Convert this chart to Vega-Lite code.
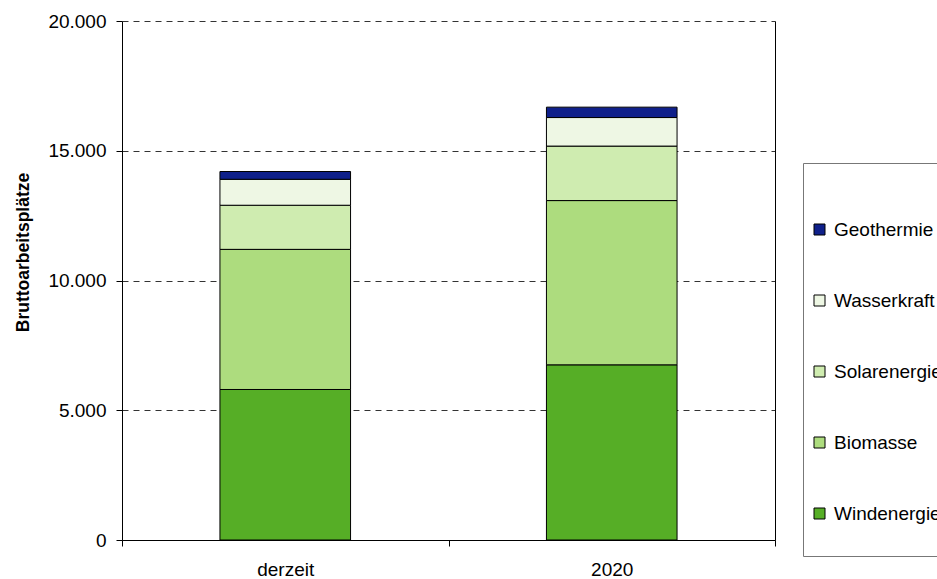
{
  "$schema": "https://vega.github.io/schema/vega-lite/v6.json",
  "width": 653,
  "height": 519,
  "autosize": "none",
  "padding": {"left": 122, "top": 21, "right": 162, "bottom": 39},
  "background": "white",
  "config": {
    "font": "Liberation Sans",
    "locale": {"number": {"decimal": ",", "thousands": ".", "grouping": [3], "currency": ["", " €"]}},
    "view": {"stroke": null}
  },
  "data": {
    "values": [
      {"Zeitraum": "derzeit", "Quelle": "Windenergie", "Rang": 1, "Arbeitsplaetze": 5800},
      {"Zeitraum": "derzeit", "Quelle": "Biomasse", "Rang": 2, "Arbeitsplaetze": 5400},
      {"Zeitraum": "derzeit", "Quelle": "Solarenergie", "Rang": 3, "Arbeitsplaetze": 1700},
      {"Zeitraum": "derzeit", "Quelle": "Wasserkraft", "Rang": 4, "Arbeitsplaetze": 1000},
      {"Zeitraum": "derzeit", "Quelle": "Geothermie", "Rang": 5, "Arbeitsplaetze": 300},
      {"Zeitraum": "2020", "Quelle": "Windenergie", "Rang": 1, "Arbeitsplaetze": 6750},
      {"Zeitraum": "2020", "Quelle": "Biomasse", "Rang": 2, "Arbeitsplaetze": 6330},
      {"Zeitraum": "2020", "Quelle": "Solarenergie", "Rang": 3, "Arbeitsplaetze": 2100},
      {"Zeitraum": "2020", "Quelle": "Wasserkraft", "Rang": 4, "Arbeitsplaetze": 1100},
      {"Zeitraum": "2020", "Quelle": "Geothermie", "Rang": 5, "Arbeitsplaetze": 400}
    ]
  },
  "encoding": {
    "x": {
      "field": "Zeitraum",
      "type": "nominal",
      "sort": ["derzeit", "2020"],
      "scale": {"paddingInner": 0, "paddingOuter": 0},
      "axis": {
        "title": null,
        "labelAngle": 0,
        "tickBand": "extent",
        "labelFontSize": 19,
        "labelColor": "black",
        "labelPadding": 14,
        "tickSize": 6,
        "tickColor": "black",
        "domainColor": "black",
        "grid": false
      }
    }
  },
  "layer": [
    {
      "mark": {"type": "bar", "stroke": "black", "strokeWidth": 1, "width": {"band": 0.4}},
      "encoding": {
        "y": {
          "field": "Arbeitsplaetze",
          "type": "quantitative",
          "stack": "zero",
          "scale": {"domain": [0, 20000]},
          "axis": {
            "title": "Bruttoarbeitsplätze",
            "titleFontSize": 17.5,
            "titleFontWeight": "bold",
            "titleColor": "black",
            "titleAngle": 270,
            "titleAlign": "center",
            "titleBaseline": "alphabetic",
            "titleX": -94,
            "titleY": 231,
            "values": [0, 5000, 10000, 15000, 20000],
            "format": ",d",
            "labelFontSize": 19,
            "labelColor": "black",
            "labelPadding": 10,
            "tickSize": 6,
            "tickColor": "black",
            "domainColor": "black",
            "grid": true,
            "gridColor": "#333333",
            "gridDash": [6, 5],
            "gridWidth": 1
          }
        },
        "order": {"field": "Rang", "type": "quantitative", "sort": "ascending"},
        "color": {
          "field": "Quelle",
          "type": "nominal",
          "scale": {
            "domain": ["Geothermie", "Wasserkraft", "Solarenergie", "Biomasse", "Windenergie"],
            "range": ["#0F208A", "#EEF7E4", "#CFECB0", "#ADDC7E", "#56AE26"]
          },
          "legend": {
            "orient": "none",
            "legendX": 681,
            "legendY": 142,
            "title": "\u00a0",
            "titleFontSize": 19,
            "titlePadding": 5,
            "padding": 7,
            "strokeColor": "#777777",
            "fillColor": "white",
            "symbolType": "square",
            "symbolSize": 121,
            "symbolStrokeColor": "black",
            "symbolStrokeWidth": 1,
            "symbolOpacity": 1,
            "labelFontSize": 19,
            "labelColor": "black",
            "labelOffset": 5,
            "labelLimit": 300,
            "clipHeight": 71,
            "rowPadding": 0
          }
        }
      }
    },
    {
      "mark": {"type": "bar", "fillOpacity": 0, "strokeOpacity": 0, "width": {"band": 0.4}},
      "encoding": {
        "y": {
          "field": "Arbeitsplaetze",
          "type": "quantitative",
          "stack": null,
          "scale": {"domain": [0, 20000]},
          "axis": {
            "orient": "right",
            "title": null,
            "labels": false,
            "ticks": false,
            "grid": false,
            "domain": true,
            "domainColor": "black"
          }
        }
      }
    }
  ],
  "resolve": {"scale": {"y": "independent"}}
}
